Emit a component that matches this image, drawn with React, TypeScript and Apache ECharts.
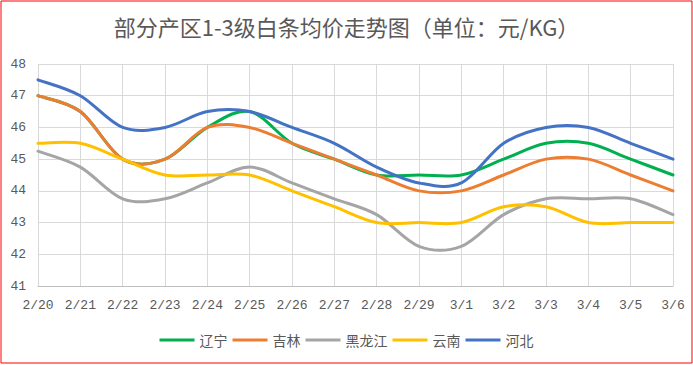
import React, { useEffect, useRef } from "react";
import * as echarts from "echarts";

const categories = ["2/20", "2/21", "2/22", "2/23", "2/24", "2/25", "2/26", "2/27", "2/28", "2/29", "3/1", "3/2", "3/3", "3/4", "3/5", "3/6"];
const liaoning = [47, 46.5, 45, 45, 46, 46.5, 45.5, 45, 44.5, 44.5, 44.5, 45, 45.5, 45.5, 45, 44.5];
const jilin = [47, 46.5, 45, 45, 46, 46, 45.5, 45, 44.5, 44, 44, 44.5, 45, 45, 44.5, 44];
const heilongjiang = [45.25, 44.75, 43.75, 43.75, 44.25, 44.75, 44.25, 43.75, 43.25, 42.25, 42.25, 43.25, 43.75, 43.75, 43.75, 43.25];
const yunnan = [45.5, 45.5, 45, 44.5, 44.5, 44.5, 44, 43.5, 43, 43, 43, 43.5, 43.5, 43, 43, 43];
const hebei = [47.5, 47, 46, 46, 46.5, 46.5, 46, 45.5, 44.75, 44.25, 44.25, 45.5, 46, 46, 45.5, 45];

const seriesNames = ["辽宁", "吉林", "黑龙江", "云南", "河北"];
const seriesData = [liaoning, jilin, heilongjiang, yunnan, hebei];
const colors = ["#00b050", "#ed7d31", "#a5a5a5", "#ffc000", "#4472c4"];

function smoothPath(pts: number[][]): string {
  const n = pts.length;
  if (n === 0) return "";
  let d = `M${pts[0][0]},${pts[0][1]}`;
  for (let i = 0; i < n - 1; i++) {
    const p0 = pts[Math.max(0, i - 1)];
    const p1 = pts[i];
    const p2 = pts[i + 1];
    const p3 = pts[Math.min(n - 1, i + 2)];
    const c1x = p1[0] + (p2[0] - p0[0]) / 6;
    const c1y = p1[1] + (p2[1] - p0[1]) / 6;
    const c2x = p2[0] - (p3[0] - p1[0]) / 6;
    const c2y = p2[1] - (p3[1] - p1[1]) / 6;
    d += ` C${c1x},${c1y} ${c2x},${c2y} ${p2[0]},${p2[1]}`;
  }
  return d;
}

export default function App() {
  const ref = useRef<HTMLDivElement>(null);
  useEffect(() => {
    if (!ref.current) return;
    const chart = echarts.init(ref.current, null, { renderer: "svg" });
    const labelFont = "'Liberation Mono', 'Noto Sans CJK SC', monospace";
    chart.setOption({
      animation: false,
      backgroundColor: "#ffffff",
      color: colors,
      title: {
        text: "部分产区1-3级白条均价走势图（单位：元/KG）",
        left: "center",
        top: 15,
        padding: 0,
        textStyle: {
          fontFamily: "'Noto Sans CJK SC', sans-serif",
          fontSize: 22,
          fontWeight: "normal",
          color: "#595959",
        },
      },
      graphic: [
        {
          type: "rect",
          shape: { x: 1, y: 1, width: 691, height: 362 },
          style: { fill: "none", stroke: "#ff0000", lineWidth: 1 },
          silent: true,
          z: 100,
        },
      ],
      legend: {
        data: seriesNames,
        left: "center",
        top: 333,
        padding: 0,
        icon: "rect",
        itemWidth: 35,
        itemHeight: 3,
        itemGap: 5,
        textStyle: {
          fontFamily: "'Noto Sans CJK SC', sans-serif",
          fontSize: 14,
          color: "#595959",
        },
      },
      grid: { left: 38, right: 20, top: 64, bottom: 79 },
      xAxis: {
        type: "category",
        data: categories,
        boundaryGap: false,
        axisLine: { lineStyle: { color: "#bfbfbf", width: 1 } },
        axisTick: { show: false },
        splitLine: { show: true, lineStyle: { color: "#d9d9d9", width: 1 } },
        axisLabel: {
          margin: 13,
          fontFamily: labelFont,
          fontSize: 13,
          color: "#595959",
          interval: 0,
        },
      },
      yAxis: {
        type: "value",
        min: 41,
        max: 48,
        interval: 1,
        axisLine: { show: false },
        axisTick: { show: false },
        splitLine: { lineStyle: { color: "#d9d9d9", width: 1 } },
        axisLabel: {
          margin: 12,
          fontFamily: labelFont,
          fontSize: 13,
          color: "#595959",
        },
      },
      series: seriesNames.map((name, i) => {
        const values = seriesData[i];
        return {
          name,
          type: "custom",
          coordinateSystem: "cartesian2d",
          data: values.map((v, j) => [j, v]),
          encode: { x: 0, y: 1 },
          itemStyle: { color: colors[i] },
          z: 2 + i,
          renderItem: (params: any, api: any) => {
            if (params.dataIndex !== 0) return null;
            const pts = values.map((v, j) => api.coord([j, v]));
            return {
              type: "path",
              shape: { pathData: smoothPath(pts) },
              style: {
                fill: "none",
                stroke: colors[i],
                lineWidth: 3,
                lineJoin: "round",
                lineCap: "round",
              },
            };
          },
        };
      }),
    });
    return () => chart.dispose();
  }, []);
  return (
    <div
      ref={ref}
      style={{ position: "absolute", left: 0, top: 0, width: 693, height: 365 }}
    />
  );
}
